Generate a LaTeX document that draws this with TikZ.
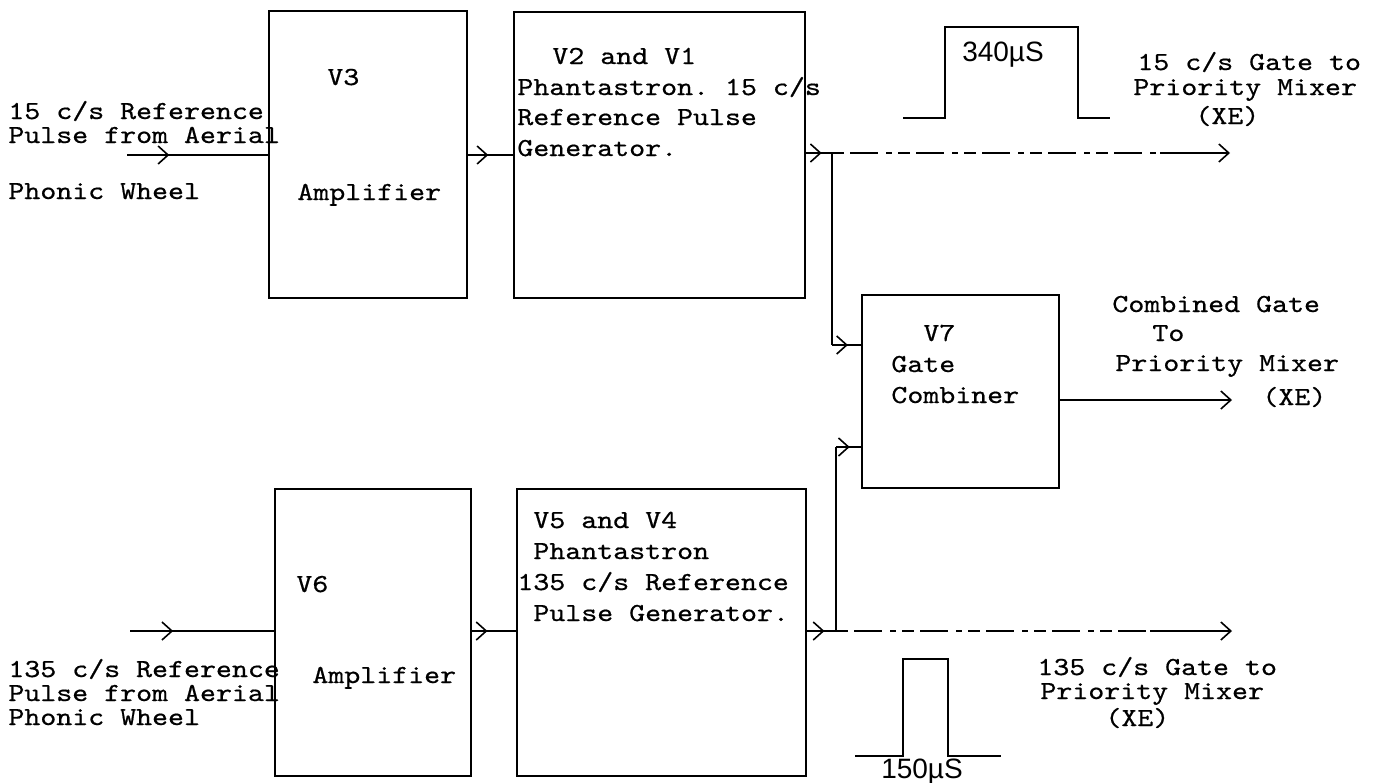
\documentclass[tikz,border=0pt]{standalone}
\usepackage{fontspec}
\setmonofont{lmmono10-regular.otf}[FakeStretch=1.17,FakeBold=0.6]
\newfontfamily\handfont{Liberation Sans}
\usetikzlibrary{arrows.meta,decorations.markings,fit}
\begin{document}
\begin{tikzpicture}[x=0.5pt,y=-0.5pt,
  box/.style={draw, line width=1.1pt, inner sep=0pt},
  tw/.style={font=\ttfamily\fontsize{13}{13}\selectfont, inner sep=0pt, anchor=base west},
  hand/.style={font=\handfont\fontsize{14}{14}\selectfont, inner sep=0pt},
  wire/.style={line width=0.8pt},
  tip/.style={-{Straight Barb[length=5pt,width=9pt]}},
  midarrow/.style={postaction={decorate}, decoration={markings, mark=at position #1 with {\arrow{Straight Barb[length=5pt,width=9pt]}}}},
  faded/.style={dash pattern=on 6pt off 3pt on 14pt off 4pt on 3pt off 3pt}
]
\useasboundingbox (0,0) rectangle (1374,782);
% boxes
\node[box, fit={(269,11) (467,298)}] (v3) {};
\node[box, fit={(514,12) (805,298)}] (b2) {};
\node[box, fit={(862,295) (1059,488)}] (v7) {};
\node[box, fit={(275,489) (471,776)}] (v6) {};
\node[box, fit={(517,489) (806,776)}] (b5) {};
% left texts top
\node[tw] (t1) at (8,119) {15 c/s Reference};
\node[tw] (t2) at (8,143) {Pulse from Aerial};
\node[tw] (t3) at (8,199) {Phonic Wheel};
% V3
\node[tw] (t4) at (327,85) {V3};
\node[tw] (t5) at (297,200) {Amplifier};
% box 2
\node[tw] (t6) at (552,64) {V2 and V1};
\node[tw] (t7) at (517,95) {Phantastron. 15 c/s};
\node[tw] (t8) at (517,125) {Reference Pulse};
\node[tw] (t9) at (517,156) {Generator.};
% V7
\node[tw] (t10) at (923,341) {V7};
\node[tw] (t11) at (891,372) {Gate};
\node[tw] (t12) at (891,403) {Combiner};
% V6
\node[tw] (t13) at (296,592) {V6};
\node[tw] (t14) at (312,683) {Amplifier};
% box 5
\node[tw] (t15) at (533,528) {V5 and V4};
\node[tw] (t16) at (533,559) {Phantastron};
\node[tw] (t17) at (517,590) {135 c/s Reference};
\node[tw] (t18) at (533,621) {Pulse Generator.};
% left texts bottom
\node[tw] (t19) at (8,677) {135 c/s Reference};
\node[tw] (t20) at (8,701) {Pulse from Aerial};
\node[tw] (t21) at (8,725) {Phonic Wheel};
% right texts top
\node[tw] (t22) at (1137,70) {15 c/s Gate to};
\node[tw] (t23) at (1133,95) {Priority Mixer};
\node[tw] (t24) at (1195,124) {(XE)};
% right texts middle
\node[tw] (t25) at (1112,312) {Combined Gate};
\node[tw] (t26) at (1152,341) {To};
\node[tw] (t27) at (1115,371) {Priority Mixer};
\node[tw] (t28) at (1262,405) {(XE)};
% right texts bottom
\node[tw] (t29) at (1037,675) {135 c/s Gate to};
\node[tw] (t30) at (1040,699) {Priority Mixer};
\node[tw] (t31) at (1105,726) {(XE)};
% pulses
\draw[wire] (903,118) -- (945,118) -- (945,27) -- (1078,27) -- (1078,118) -- (1110,118);
\node[hand] (p1) at (1003,55) {340µS};
\draw[wire] (855,756) -- (903,756) -- (903,659) -- (948,659) -- (948,756) -- (1001,756);
\node[hand] (p2) at (922,772) {150µS};
% connectors top
\coordinate (in1) at (127,155);
\draw[wire, midarrow=0.3] (in1) -- (in1 -| v3.west);
\draw[wire, midarrow=0.45] (v3.east |- in1) -- (b2.west |- in1);
\coordinate (j1) at (832,153);
\coordinate (o1) at (1230,153);
\coordinate (o1a) at (1160,153);
\draw[wire, midarrow=0.6] (b2.east |- j1) -- (j1);
\draw[wire, faded] (j1) -- (o1a);
\draw[wire, tip] (o1a) -- (o1);
\coordinate (k1) at (832,345);
\draw[wire] (j1) -- (k1);
\draw[wire, midarrow=0.55] (k1) -- (k1 -| v7.west);
% V7 output
\coordinate (o2) at (1232,400);
\draw[wire, tip] (v7.east |- o2) -- (o2);
% connectors bottom
\coordinate (in2) at (130,631);
\draw[wire, midarrow=0.3] (in2) -- (in2 -| v6.west);
\draw[wire, midarrow=0.35] (v6.east |- in2) -- (b5.west |- in2);
\coordinate (j2) at (836,631);
\coordinate (o3) at (1232,631);
\coordinate (o3a) at (1150,631);
\draw[wire, midarrow=0.6] (b5.east |- j2) -- (j2);
\draw[wire, faded] (j2) -- (o3a);
\draw[wire, tip] (o3a) -- (o3);
\coordinate (k2) at (836,447);
\draw[wire] (j2) -- (k2);
\draw[wire, midarrow=0.55] (k2) -- (k2 -| v7.west);
\end{tikzpicture}
\end{document}
